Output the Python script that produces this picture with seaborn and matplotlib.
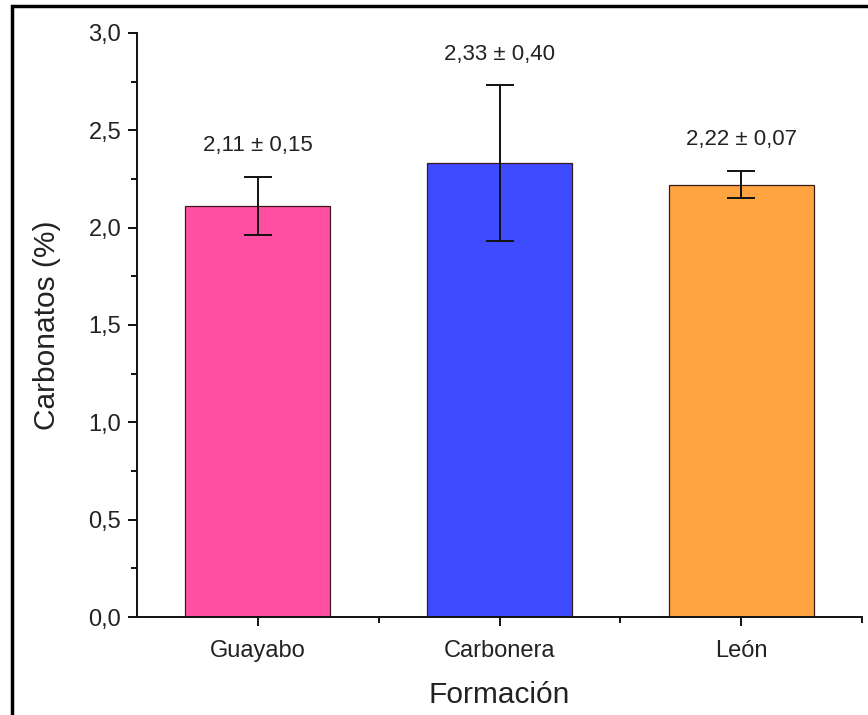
import pandas as pd
import matplotlib
matplotlib.use("Agg")
import matplotlib.pyplot as plt
import seaborn as sns
from matplotlib.ticker import FuncFormatter, MultipleLocator, FixedLocator
from matplotlib.patches import Rectangle

formaciones = ["Guayabo", "Carbonera", "León"]
carbonatos = [2.11, 2.33, 2.22]
desviacion = [0.15, 0.40, 0.07]
colores = ["#FF4FA3", "#3F4BFF", "#FFA440"]

df = pd.DataFrame({"Formación": formaciones, "Carbonatos": carbonatos, "sd": desviacion})

sns.set_style("ticks")
plt.rcParams["font.family"] = ["Liberation Sans", "DejaVu Sans"]

fig = plt.figure(figsize=(8.68, 7.15), dpi=100)
ax = fig.add_axes([0.158, 0.137, 0.835, 0.817])

sns.barplot(data=df, x="Formación", y="Carbonatos", hue="Formación",
            palette=colores, saturation=1, width=0.6, edgecolor="#3a1a1a",
            linewidth=0.9, errorbar=None, legend=False, ax=ax)

pos = list(range(len(formaciones)))
ax.errorbar(pos, df["Carbonatos"], yerr=df["sd"], fmt="none", ecolor="#111111",
            elinewidth=1.4, capsize=10, capthick=1.4, zorder=5)

for i, (m, s) in enumerate(zip(carbonatos, desviacion)):
    lbl = f"{m:.2f} ± {s:.2f}".replace(".", ",")
    ax.annotate(lbl, xy=(i, m + s), xytext=(0, 15), textcoords="offset points",
                ha="center", va="bottom", fontsize=16, color="#222222")

ax.set_xlim(-0.5, 2.5)
ax.set_ylim(0, 3.0)
ax.yaxis.set_major_locator(MultipleLocator(0.5))
ax.yaxis.set_minor_locator(MultipleLocator(0.25))
ax.xaxis.set_minor_locator(FixedLocator([0.5, 1.5, 2.5]))
ax.yaxis.set_major_formatter(FuncFormatter(lambda v, p: f"{v:.1f}".replace(".", ",")))

ax.tick_params(axis="both", which="major", length=6.5, width=1.4, labelsize=17,
               colors="#111111", labelcolor="#222222")
ax.tick_params(axis="both", which="minor", length=4, width=1.4, colors="#111111")
ax.tick_params(axis="x", pad=10)
ax.tick_params(axis="y", pad=5)

sns.despine(ax=ax)
for sp in ["left", "bottom"]:
    ax.spines[sp].set_linewidth(1.4)
    ax.spines[sp].set_color("#111111")

ax.set_ylabel("Carbonatos (%)", fontsize=21.5, color="#222222", labelpad=20)
ax.set_xlabel("Formación", fontsize=21.5, color="#222222", labelpad=14)

fig.patches.append(Rectangle((12 / 868, -0.1), 1.2, 1 - 6 / 715 + 0.1,
                             transform=fig.transFigure, fill=False,
                             edgecolor="black", linewidth=2.5))

fig.savefig("out.png", dpi=100)
